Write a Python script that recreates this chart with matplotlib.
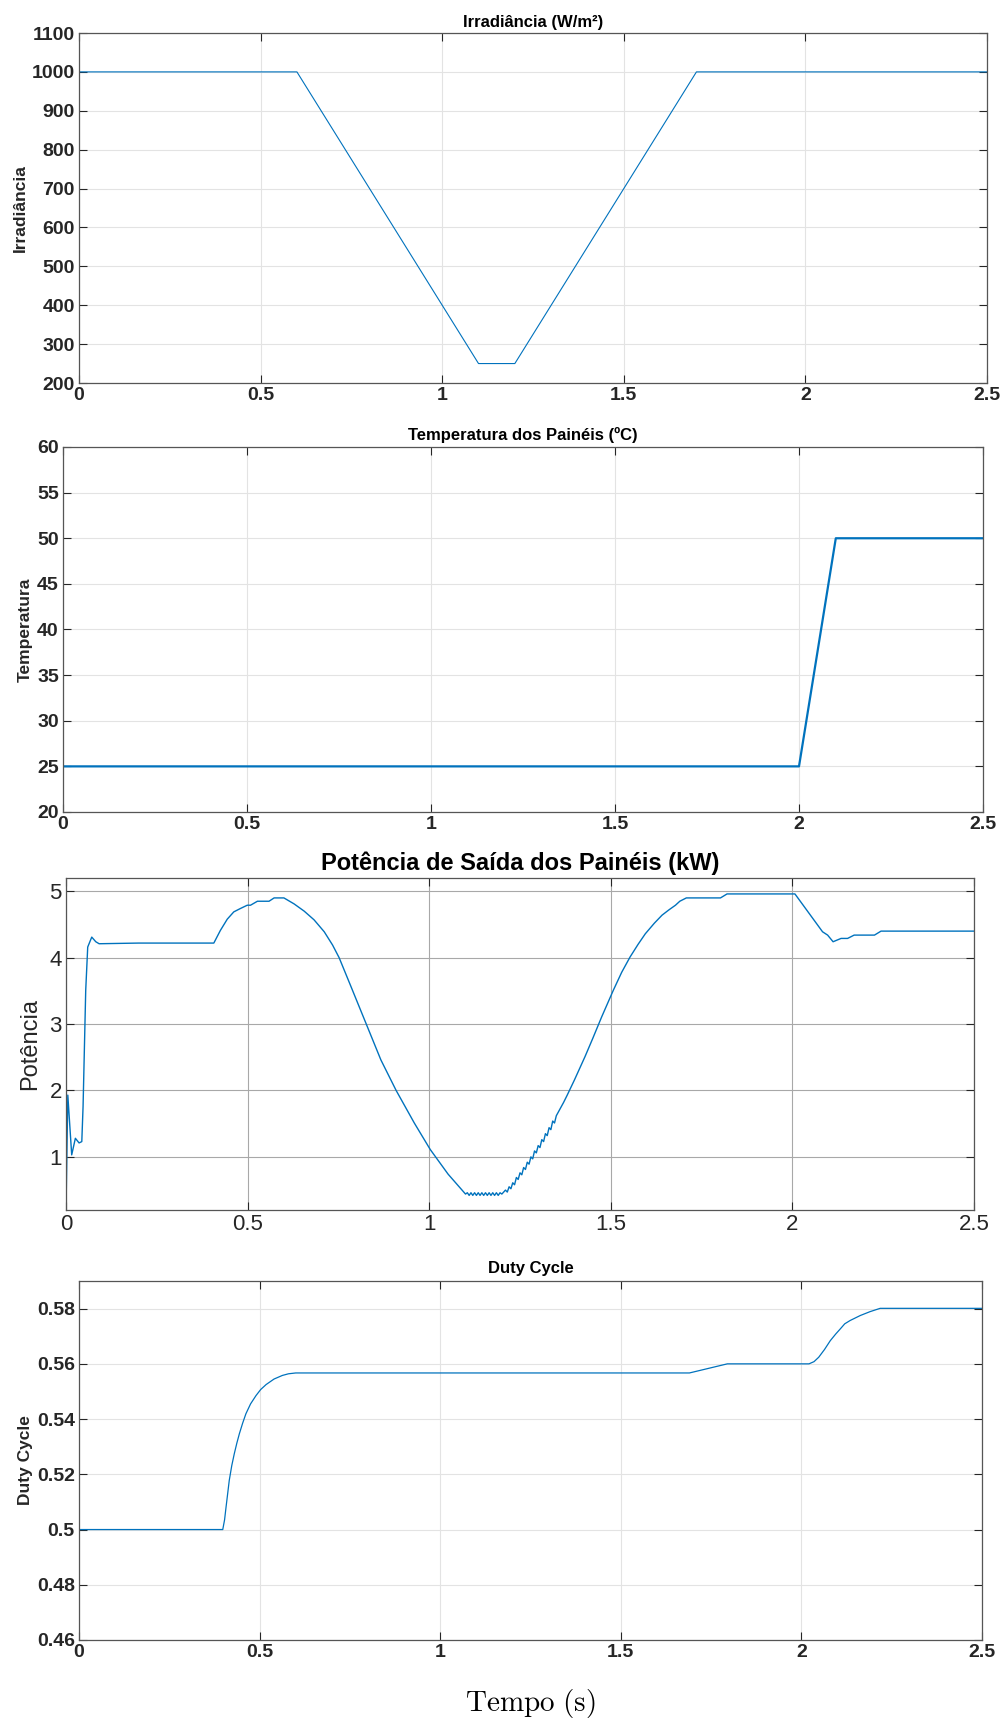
import matplotlib
matplotlib.use('Agg')
import matplotlib.pyplot as plt

plt.rcParams['font.family'] = ['Liberation Sans', 'DejaVu Sans']

# irradiance (W/m2)
irr_t = [0, 0.6, 1.1, 1.2, 1.7, 2.5]
irr_v = [1000, 1000, 250, 250, 1000, 1000]

# panel temperature (C)
temp_t = [0, 2.0, 2.1, 2.5]
temp_v = [25, 25, 50, 50]

# output power (kW)
pot_t = [0, 0.0, 0.005, 0.0157, 0.0258, 0.036, 0.0435, 0.047, 0.0543, 0.0598, 0.0709,
         0.082, 0.0912, 0.2, 0.3, 0.407, 0.425, 0.444, 0.462, 0.48, 0.499, 0.508,
         0.527, 0.559, 0.573, 0.600, 0.628, 0.656, 0.683, 0.711, 0.734, 0.752,
         0.785, 0.826, 0.867, 0.909, 0.959, 1.003, 1.052, 1.10,
         1.105, 1.11, 1.115, 1.12, 1.125, 1.13, 1.135, 1.14, 1.145, 1.15, 1.155,
         1.16, 1.165, 1.17, 1.175, 1.18, 1.185, 1.19, 1.195, 1.20,
         1.21, 1.215, 1.22, 1.225, 1.23, 1.235, 1.24, 1.245, 1.25, 1.255, 1.26,
         1.265, 1.27, 1.275, 1.28, 1.285, 1.29, 1.295, 1.30, 1.305, 1.31, 1.315,
         1.32, 1.325, 1.33, 1.335, 1.34, 1.345, 1.35, 1.36, 1.37, 1.38, 1.40,
         1.429, 1.45, 1.475, 1.507, 1.53, 1.553, 1.575, 1.595, 1.62, 1.641, 1.66,
         1.678, 1.69, 1.708, 1.802, 1.820,
         2.007, 2.083, 2.097, 2.112, 2.134, 2.152, 2.170, 2.226, 2.244, 2.5]
pot_v = [3.3, 0.2, 1.93, 1.03, 1.28, 1.21, 1.23, 1.76, 3.51, 4.16, 4.31,
         4.24, 4.21, 4.22, 4.22, 4.22, 4.41, 4.58, 4.69, 4.74, 4.79, 4.79,
         4.85, 4.85, 4.90, 4.90, 4.81, 4.70, 4.57, 4.39, 4.19, 4.00,
         3.56, 3.01, 2.46, 2.00, 1.51, 1.11, 0.74, 0.44,
         0.46, 0.42, 0.46, 0.42, 0.46, 0.42, 0.46, 0.42, 0.46, 0.42, 0.46,
         0.42, 0.46, 0.42, 0.46, 0.42, 0.46, 0.42, 0.46, 0.44,
         0.50, 0.47, 0.55, 0.52, 0.61, 0.58, 0.69, 0.66, 0.76, 0.73, 0.84,
         0.81, 0.92, 0.89, 1.00, 0.97, 1.09, 1.06, 1.17, 1.14, 1.26, 1.23,
         1.35, 1.32, 1.44, 1.41, 1.54, 1.51, 1.62, 1.72, 1.82, 1.93, 2.16,
         2.51, 2.78, 3.11, 3.51, 3.78, 4.01, 4.20, 4.36, 4.52, 4.64, 4.72,
         4.79, 4.85, 4.90, 4.90, 4.96,
         4.96, 4.39, 4.34, 4.24, 4.29, 4.29, 4.34, 4.34, 4.40, 4.40]

# duty cycle
duty_t = [0, 0.398, 0.403, 0.407, 0.416, 0.423, 0.430, 0.437, 0.444, 0.453, 0.462,
          0.475, 0.49, 0.503, 0.518, 0.54, 0.563, 0.58, 0.6,
          1.69, 1.795, 2.021, 2.035, 2.048, 2.064, 2.08, 2.095, 2.108, 2.12, 2.135,
          2.163, 2.19, 2.218, 2.5]
duty_v = [0.5, 0.5, 0.5035, 0.508, 0.5178, 0.5232, 0.5275, 0.5313, 0.5347, 0.5385, 0.5419,
          0.5455, 0.5485, 0.5507, 0.5525, 0.5545, 0.5558, 0.5564, 0.5567,
          0.5567, 0.560, 0.560, 0.5608, 0.5624, 0.5652, 0.5684, 0.5708, 0.5727, 0.5745, 0.5757,
          0.5775, 0.5789, 0.5801, 0.5801]

W, H = 1005, 1720
blue = '#0072BD'
dark = '#262626'

fig = plt.figure(figsize=(W / 100, H / 100), dpi=100)


def make_ax(l, t, r, b):
    return fig.add_axes([l / W, 1 - b / H, (r - l) / W, (b - t) / H])


def style(ax, size, weight, gridcolor, gridlw):
    ax.set_xlim(0, 2.5)
    ax.set_xticks([0, 0.5, 1, 1.5, 2, 2.5])
    ax.set_xticklabels(['0', '0.5', '1', '1.5', '2', '2.5'])
    ax.tick_params(direction='in', top=True, right=True, length=6, width=0.8,
                   colors=dark, labelsize=size, pad=3)
    for lab in ax.get_xticklabels() + ax.get_yticklabels():
        lab.set_fontweight(weight)
    for s in ax.spines.values():
        s.set_color('#555555')
        s.set_linewidth(0.9)
    ax.grid(True, color=gridcolor, linewidth=gridlw)
    ax.set_axisbelow(True)


# panel 1
ax1 = make_ax(79, 33, 987, 383)
ax1.plot(irr_t, irr_v, color=blue, lw=0.8)
ax1.set_ylim(200, 1100)
ax1.set_yticks(range(200, 1101, 100))
style(ax1, 14, 'bold', '#e3e3e3', 0.8)
ax1.set_title('Irradiância (W/m²)', fontsize=12, fontweight='bold', pad=4)
ax1.set_ylabel('Irradiância', fontsize=12.5, fontweight='bold', color=dark, labelpad=3)

# panel 2
ax2 = make_ax(63, 447, 983, 812)
ax2.plot(temp_t, temp_v, color=blue, lw=1.6)
ax2.set_ylim(20, 60)
ax2.set_yticks(range(20, 61, 5))
style(ax2, 14, 'bold', '#e3e3e3', 0.8)
ax2.set_title('Temperatura dos Painéis (ºC)', fontsize=12, fontweight='bold', pad=5)
ax2.set_ylabel('Temperatura', fontsize=12.5, fontweight='bold', color=dark, labelpad=3)

# panel 3
ax3 = make_ax(66, 878, 974, 1210)
ax3.plot(pot_t, pot_v, color=blue, lw=1.0)
ax3.set_ylim(0.2, 5.2)
ax3.set_yticks([1, 2, 3, 4, 5])
style(ax3, 16, 'normal', '#a8a8a8', 0.8)
ax3.set_title('Potência de Saída dos Painéis (kW)', fontsize=17, fontweight='bold', pad=6)
ax3.set_ylabel('Potência', fontsize=17, color=dark, labelpad=6)

# panel 4
ax4 = make_ax(79, 1281, 982, 1640)
ax4.plot(duty_t, duty_v, color=blue, lw=0.9)
ax4.set_ylim(0.46, 0.59)
ax4.set_yticks([0.46, 0.48, 0.5, 0.52, 0.54, 0.56, 0.58])
ax4.set_yticklabels(['0.46', '0.48', '0.5', '0.52', '0.54', '0.56', '0.58'])
style(ax4, 14, 'bold', '#e3e3e3', 0.8)
ax4.set_title('Duty Cycle', fontsize=12, fontweight='bold', pad=6)
ax4.set_ylabel('Duty Cycle', fontsize=12.5, fontweight='bold', color=dark, labelpad=3)

fig.text(0.5 * (79 + 982) / W, 1 - 1703 / H, r'$\mathrm{Tempo\ (s)}$', math_fontfamily='cm',
         fontsize=21, ha='center', va='center')

fig.savefig('out.png', dpi=100)
